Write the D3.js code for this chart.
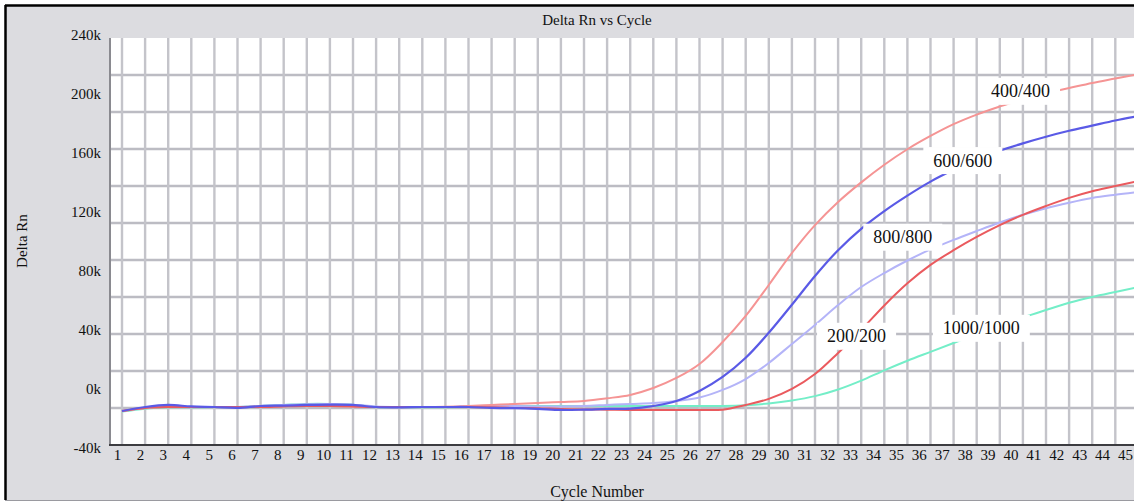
<!DOCTYPE html>
<html>
<head>
<meta charset="utf-8">
<script src="https://cdn.jsdelivr.net/npm/d3@7"></script>
<style>
  body { margin: 0; background: #fff; }
  svg { display: block; }
  text { font-family: "Liberation Serif", "Times New Roman", serif; fill: #111; }
</style>
</head>
<body>
<div id="chart"></div>
<script>
// cycle numbers (x categories)
const cycles = [1,2,3,4,5,6,7,8,9,10,11,12,13,14,15,16,17,18,19,20,21,22,23,24,25,26,27,28,29,30,31,32,33,34,35,36,37,38,39,40,41,42,43,44,45];

// delta Rn values in thousands
const rn400 = [-15.1,-13.0,-12.4,-12.4,-12.4,-12.4,-12.0,-11.7,-11.5,-11.7,-12.0,-12.4,-12.4,-12.4,-12.2,-11.7,-11.0,-10.3,-9.7,-9.0,-8.3,-6.5,-4.2,0.5,7.3,16.8,31.7,49.4,70.4,92.1,111.0,126.7,140.0,152.0,162.5,171.5,179.5,186.0,191.5,196.5,200.5,204.0,207.5,210.5,213.5];
const rn600 = [-15.1,-12.4,-11.0,-12.0,-12.4,-13.0,-11.7,-11.4,-11.0,-10.8,-11.0,-12.4,-12.6,-12.4,-12.4,-12.4,-13.0,-13.2,-13.7,-14.4,-14.2,-13.7,-13.5,-11.7,-8.3,-1.5,8.0,21.0,38.0,57.0,76.5,94.0,108.5,120.5,131.0,140.5,148.5,155.5,161.5,166.5,171.0,175.0,178.5,182.0,185.0];
const rn800 = [-15.1,-13.0,-12.0,-12.4,-12.4,-12.4,-11.7,-11.0,-10.5,-10.3,-10.8,-12.0,-12.4,-12.4,-12.4,-12.2,-11.7,-11.7,-12.0,-12.0,-11.7,-11.0,-10.3,-9.7,-8.3,-6.0,-0.8,6.6,17.5,30.4,43.3,56.8,69.0,78.5,87.0,94.5,101.0,107.0,112.8,118.0,122.5,126.2,129.4,131.6,133.5];
const rn200 = [-15.1,-13.0,-12.4,-12.4,-12.4,-12.4,-12.4,-12.0,-11.7,-11.7,-12.0,-12.4,-12.4,-12.4,-12.4,-12.4,-12.6,-13.0,-13.2,-13.7,-14.0,-14.2,-14.4,-14.4,-14.4,-14.4,-14.2,-11.0,-6.9,-0.1,10.0,24.3,39.9,56.5,71.5,84.0,94.0,103.0,111.0,118.0,124.0,129.5,134.0,137.5,141.0];
const rn1000 = [-15.5,-13.5,-12.6,-12.6,-12.4,-12.4,-11.7,-11.0,-10.3,-10.3,-10.8,-12.4,-12.4,-12.6,-12.6,-12.4,-12.0,-11.7,-11.7,-11.7,-11.7,-11.7,-11.7,-11.7,-11.7,-11.7,-11.7,-11.2,-10.0,-8.0,-5.0,-0.5,5.5,12.5,19.0,25.0,31.0,37.0,42.6,48.3,53.4,58.3,62.3,65.7,69.0];

// y tick labels (thousands)
const yTicks = [-40, 0, 40, 80, 120, 160, 200, 240];

// curve labels and where they sit (cycle, value)
const labelNames = ["400/400", "600/600", "800/800", "200/200", "1000/1000"];
const labelCycles = [39.9, 37.4, 34.8, 32.8, 38.2];
const labelValues = [202, 155, 103, 35.8, 41.2];

Chart();

function Chart() {
  const W = 1134, H = 503;
  const plot = { left: 110, right: 1134, top: 38, bottom: 445 };

  const svg = d3.select("#chart").append("svg")
    .attr("width", W).attr("height", H);

  // grey panel with black frame
  svg.append("rect").attr("x", 5).attr("y", 5).attr("width", W).attr("height", 495)
    .style("fill", "#dcdce0");
  svg.append("line").attr("x1", 5).attr("x2", W).attr("y1", 5.5).attr("y2", 5.5)
    .style("stroke", "#000").style("stroke-width", 2.5);
  svg.append("line").attr("x1", 5.5).attr("x2", 5.5).attr("y1", 5).attr("y2", 500)
    .style("stroke", "#000").style("stroke-width", 2.5);
  svg.append("line").attr("x1", 5).attr("x2", W).attr("y1", 500.5).attr("y2", 500.5)
    .style("stroke", "#9a9aa0").style("stroke-width", 1);

  // plot area
  svg.append("rect")
    .attr("x", plot.left).attr("y", plot.top)
    .attr("width", plot.right - plot.left).attr("height", plot.bottom - plot.top)
    .style("fill", "#fff");

  // scales: data positions follow the grid, tick labels sit slightly off it like the original
  const xScale = d3.scaleLinear().domain([1, 45]).range([122, 1138.4]);
  const xLabel = d3.scaleLinear().domain([1, 45]).range([117, 1125]);
  const yScale = d3.scaleLinear().domain([-40, 240]).range([447.7, 35]);
  const gridY = d3.scaleLinear().domain([0, 11]).range([plot.bottom, plot.top]);

  svg.append("clipPath").attr("id", "clip")
    .append("rect")
    .attr("x", plot.left).attr("y", plot.top)
    .attr("width", plot.right - plot.left).attr("height", plot.bottom - plot.top);

  const grid = svg.append("g").attr("clip-path", "url(#clip)");

  // horizontal grid
  grid.selectAll(".hgrid")
    .data(d3.range(1, 11))
    .enter().append("line")
    .attr("x1", plot.left).attr("x2", plot.right)
    .attr("y1", (d) => gridY(d)).attr("y2", (d) => gridY(d))
    .style("stroke", "#bcbcc3").style("stroke-width", 2.4);

  // vertical grid, one per cycle
  grid.selectAll(".vgrid")
    .data(cycles)
    .enter().append("line")
    .attr("x1", (d) => xScale(d)).attr("x2", (d) => xScale(d))
    .attr("y1", plot.top).attr("y2", plot.bottom)
    .style("stroke", "#c4c4ca").style("stroke-width", 2.4);

  // curves
  const series = [
    { name: "1000/1000", values: rn1000, color: "#74eec8", w: 2 },
    { name: "800/800", values: rn800, color: "#b4b4f8", w: 2 },
    { name: "400/400", values: rn400, color: "#f59494", w: 2 },
    { name: "200/200", values: rn200, color: "#ea5a5e", w: 2 },
    { name: "600/600", values: rn600, color: "#5a5ae6", w: 2.2 },
  ];

  const line = d3.line()
    .curve(d3.curveCatmullRom.alpha(0.5))
    .x((d, i) => xScale(cycles[i]))
    .y((d) => yScale(d));

  const curves = svg.append("g").attr("clip-path", "url(#clip)");
  series.forEach(function (s) {
    curves.append("path")
      .datum(s.values)
      .attr("d", line)
      .style("fill", "none")
      .style("stroke", s.color)
      .style("stroke-width", s.w)
      .style("stroke-linejoin", "round");
  });

  // curve labels on white boxes (they cut the lines like the original)
  const labels = svg.append("g");
  labelNames.forEach(function (name, i) {
    const g = labels.append("g");
    const t = g.append("text")
      .attr("x", xScale(labelCycles[i]))
      .attr("y", yScale(labelValues[i]))
      .attr("dy", "0.35em")
      .attr("text-anchor", "middle")
      .style("font-size", "18px")
      .text(name);
    const bb = t.node().getBBox();
    g.insert("rect", "text")
      .attr("x", bb.x - 10).attr("y", bb.y + bb.height / 2 - 13.5)
      .attr("width", bb.width + 20).attr("height", 27)
      .style("fill", "#fff");
  });

  // axis lines
  svg.append("line")
    .attr("x1", plot.left).attr("x2", plot.left)
    .attr("y1", plot.top).attr("y2", plot.bottom)
    .style("stroke", "#8a8a90").style("stroke-width", 2);
  svg.append("line")
    .attr("x1", plot.left - 1).attr("x2", plot.right)
    .attr("y1", plot.bottom).attr("y2", plot.bottom)
    .style("stroke", "#3c3c40").style("stroke-width", 2);

  // y tick labels
  const yAxis = svg.append("g")
    .attr("transform", "translate(" + 101 + ",0)")
    .call(d3.axisLeft(yScale).tickValues(yTicks).tickSize(0).tickPadding(0)
      .tickFormat((d) => d + "k"));
  yAxis.select(".domain").remove();
  yAxis.selectAll("text")
    .style("font-size", "15px")
    .style("font-family", "'Liberation Serif', serif")
    .style("fill", "#111");

  // x tick labels
  const xAxis = svg.append("g")
    .attr("transform", "translate(0," + 449 + ")")
    .call(d3.axisBottom(xLabel).tickValues(cycles).tickSize(0).tickPadding(0)
      .tickFormat(d3.format("d")));
  xAxis.select(".domain").remove();
  xAxis.selectAll("text")
    .style("font-size", "15px")
    .style("font-family", "'Liberation Serif', serif")
    .style("fill", "#111");

  // title
  svg.append("text")
    .attr("x", 597).attr("y", 20)
    .attr("dy", "0.35em")
    .attr("text-anchor", "middle")
    .style("font-size", "15px")
    .text("Delta Rn vs Cycle");

  // x-axis title
  svg.append("text")
    .attr("x", 597).attr("y", 491)
    .attr("dy", "0.35em")
    .attr("text-anchor", "middle")
    .style("font-size", "16px")
    .text("Cycle Number");

  // y-axis title
  svg.append("text")
    .attr("transform", "translate(22,241) rotate(-90)")
    .attr("dy", "0.35em")
    .attr("text-anchor", "middle")
    .style("font-size", "15px")
    .text("Delta Rn");
}
</script>
</body>
</html>
